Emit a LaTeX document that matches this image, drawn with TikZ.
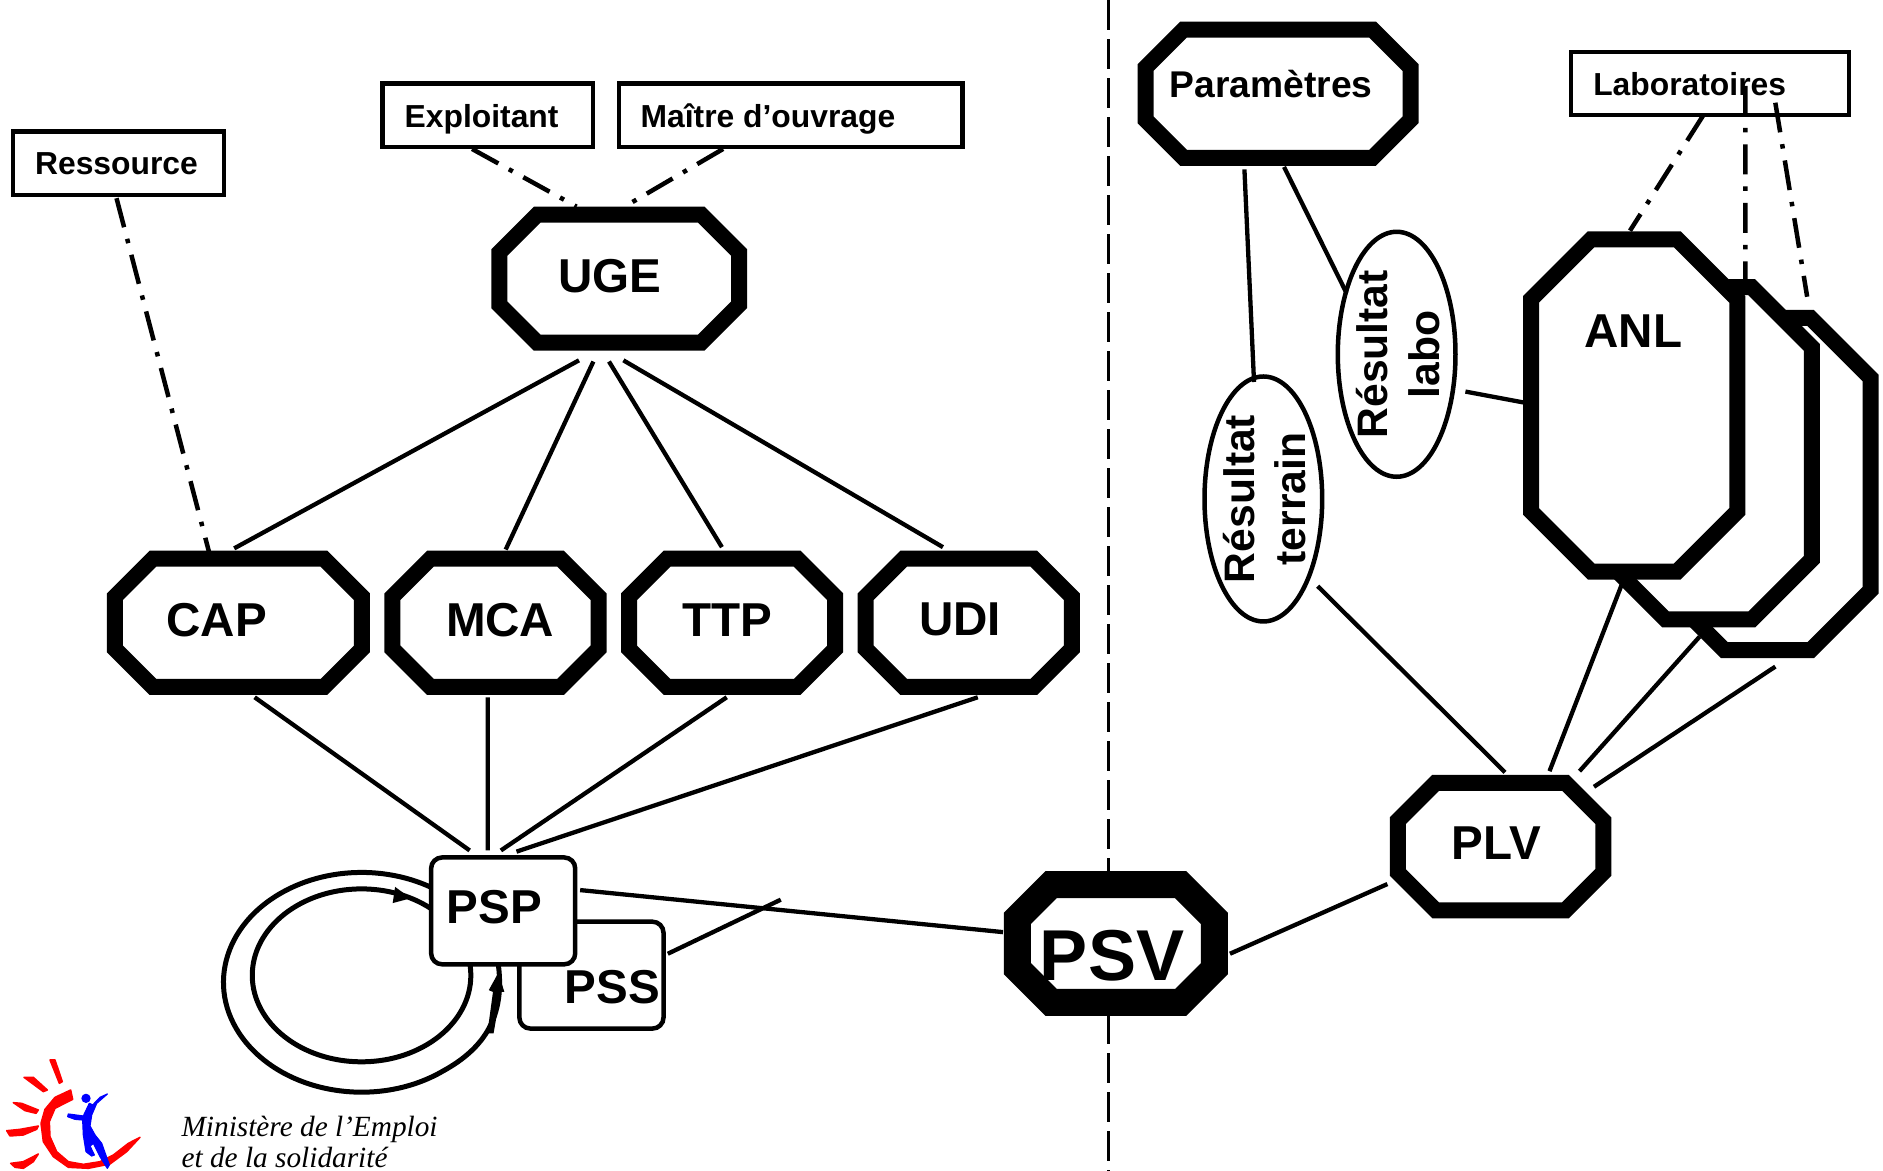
\documentclass[tikz,border=0pt]{standalone}
\usepackage{fontspec}
\usetikzlibrary{shapes.geometric}
\setmainfont{Liberation Sans}
\newfontfamily\minfont{Liberation Serif}
\pgfdeclarelayer{loops}
\pgfsetlayers{loops,main}
\tikzset{
  octanchor/.style={rectangle,draw=none,inner sep=0pt,outer sep=0pt},
  octline/.style={draw=black,fill=white,miter limit=10},
  actor/.style={rectangle,draw=black,fill=white,line width=4.2pt,inner sep=0pt,outer sep=0pt},
  procbox/.style={rectangle,rounded corners=11pt,draw=black,fill=white,line width=4.5pt,inner sep=0pt,outer sep=0pt,minimum width=120pt,minimum height=89pt},
  resbox/.style={ellipse,draw=black,fill=white,line width=4.5pt,inner sep=0pt,outer sep=0pt,minimum width=98pt,minimum height=204pt},
  small/.style={font=\bfseries\fontsize{26.5}{30}\selectfont,inner sep=0pt},
  big/.style={font=\bfseries\fontsize{39.6}{44}\selectfont,inner sep=0pt},
  rot/.style={font=\bfseries\fontsize{35.5}{43}\selectfont,inner sep=0pt,rotate=90,align=center},
  link/.style={line width=4.3pt},
  dd/.style={line width=4.5pt,dash pattern=on 30pt off 12pt on 4.5pt off 12pt},
  sep/.style={line width=2.8pt,dash pattern=on 30pt off 9pt},
  loopline/.style={line width=5pt},
  credit/.style={font=\minfont\itshape\fontsize{24.4}{28}\selectfont,inner sep=0pt,anchor=base west},
  redmark/.style={fill=red,draw=red,line width=1.5pt,line join=round},
  bluemark/.style={fill=blue,draw=blue,line width=1.2pt,line join=round}
}
% name, cx, cy, width, height, chamfer (centre line of the stroke), stroke width
\newcommand{\octa}[7]{%
  \node[octanchor,minimum width=#4pt,minimum height=#5pt] (#1) at (#2,#3) {};
  \draw[octline,line width=#7pt]
    ([shift={({-#4/2+#6},{-#5/2})}]#1.center) --
    ([shift={({#4/2-#6},{-#5/2})}]#1.center) --
    ([shift={({#4/2},{-#5/2+#6})}]#1.center) --
    ([shift={({#4/2},{#5/2-#6})}]#1.center) --
    ([shift={({#4/2-#6},{#5/2})}]#1.center) --
    ([shift={({-#4/2+#6},{#5/2})}]#1.center) --
    ([shift={({-#4/2},{#5/2-#6})}]#1.center) --
    ([shift={({-#4/2},{-#5/2+#6})}]#1.center) -- cycle;
}
\begin{document}
\begin{tikzpicture}[x=1pt,y=-1pt,scale=1.2009,every node/.append style={transform shape}]
\useasboundingbox (0,0) rectangle (1568,975);
% divider
\coordinate (divtop) at (923,0);
\coordinate (divbot) at (923,975);
\draw[sep] (divtop) -- (divbot);
% actors
\node[actor,minimum width=176pt,minimum height=53pt] (res) at (98.5,136) {};
\node[actor,minimum width=175pt,minimum height=53pt] (exp) at (406,96) {};
\node[actor,minimum width=286pt,minimum height=53pt] (mai) at (658.5,96) {};
\node[actor,minimum width=231pt,minimum height=52pt] (lab) at (1424,69.5) {};
% octagons
\octa{uge}{515.5}{232}{199.7}{106.7}{31.6}{16}
\octa{cap}{198.5}{518.5}{205.7}{106.7}{31.6}{16}
\octa{mca}{412.5}{518.5}{171.7}{106.7}{31.6}{16}
\octa{ttp}{609.5}{518.5}{171.7}{106.7}{31.6}{16}
\octa{udi}{806.5}{518.5}{171.7}{106.7}{31.6}{16}
\octa{par}{1064}{78}{220.7}{106.7}{31.6}{16}
\octa{plv}{1249.25}{704.75}{171.2}{106.2}{31.6}{16}
\octa{psv}{929}{785.5}{164}{98}{28}{27}
\octa{anb}{1471.5}{403}{171.7}{276.7}{50}{16}
\octa{anm}{1422.5}{377.4}{171.7}{276.7}{50}{16}
\octa{anl}{1360.5}{337.5}{171.7}{276.7}{50}{16}
% ellipses
\node[resbox] (labo) at (1163,295) {};
\node[resbox] (ter) at (1052,415.5) {};
% PSS, PSP and the loops behind them
\node[procbox] (pss) at (492.5,812) {};
\node[procbox] (psp) at (419,758.5) {};
\coordinate (loopb) at (301,812);
\begin{pgfonlayer}{loops}
\draw[loopline] (loopb) ellipse [x radius=91,y radius=72];
\draw[loopline] ([shift={(-4,45.5)}]psp.center) .. controls (420,845) and (405,872) .. (369,891.8) arc [start angle=53.8,end angle=310,x radius=115,y radius=91.5];
\fill (342,748) -- (329,738.5) -- (327,752) -- cycle;
\fill (415,810) -- (420,826) -- (417,826) -- (411,860.5) -- (405.8,860.5) -- (410.5,826) -- (407,824.5) -- cycle;
\end{pgfonlayer}
% labels
\node[small] (tres) at (97,136) {Ressource};
\node[small] (texp) at (401,99) {Exploitant};
\node[small] (tmai) at (639.5,99) {Maître d’ouvrage};
\node[small] (tlab) at (1407,70) {Laboratoires};
\node[big] (tuge) at (508,230) {UGE};
\node[big] (tcap) at (180.5,516) {CAP};
\node[big] (tmca) at (416.5,516) {MCA};
\node[big] (tttp) at (605.5,516) {TTP};
\node[big] (tudi) at (799.5,516) {UDI};
\node[big] (tpsp) at (411.5,755) {PSP};
\node[big] (tpss) at (510,822) {PSS};
\node[big] (tplv) at (1246,702) {PLV};
\node[big] (tanl) at (1360,276) {ANL};
\node[font=\bfseries\fontsize{31}{34}\selectfont,inner sep=0pt] (tpar) at (1058.5,70) {Paramètres};
\node[font=\bfseries\fontsize{60}{66}\selectfont,inner sep=0pt] (tpsv) at (926,796) {PSV};
\node[rot] (tlabo) at (1164,295) {Résultat\\labo};
\node[rot] (tter) at (1053,415.5) {Résultat\\terrain};
% connectors
\draw[dd] ([shift={(-1.5,29)}]res.center) -- ([shift={(-24.5,-59)}]cap.center);
\draw[dd] ([shift={(-13,28)}]exp.center) -- ([shift={(-35.5,-60)}]uge.center);
\draw[dd] ([shift={(-56.5,28)}]mai.center) -- ([shift={(4.5,-60)}]uge.center);
\draw[link] ([shift={(-33.5,68)}]uge.center) -- ([shift={(-3.5,-62)}]cap.center);
\draw[link] ([shift={(-21.5,69)}]uge.center) -- ([shift={(8.5,-61)}]mca.center);
\draw[link] ([shift={(-8.5,69)}]uge.center) -- ([shift={(-8.5,-63)}]ttp.center);
\draw[link] ([shift={(3.5,68)}]uge.center) -- ([shift={(-21.5,-63)}]udi.center);
\draw[link] ([shift={(13.5,62)}]cap.center) -- ([shift={(-28,-50.5)}]psp.center);
\draw[link] ([shift={(-6.5,62)}]mca.center) -- ([shift={(-13,-50.5)}]psp.center);
\draw[link] ([shift={(-4.5,62)}]ttp.center) -- ([shift={(-2,-50.5)}]psp.center);
\draw[link] ([shift={(7.5,62)}]udi.center) -- ([shift={(11,-49.5)}]psp.center);
\draw[link] ([shift={(64,-17.5)}]psp.center) -- ([shift={(-94,-9.5)}]psv.center);
\coordinate (stub) at (650,749);
\draw[link] ([shift={(63.5,-18)}]pss.center) -- (stub);
\draw[link] ([shift={(95,8.5)}]psv.center) -- ([shift={(-94.25,31.25)}]plv.center);
\draw[link] ([shift={(45,72.5)}]ter.center) -- ([shift={(3.75,-61.75)}]plv.center);
\draw[link] ([shift={(-10.5,149.5)}]anl.center) -- ([shift={(40.75,-62.75)}]plv.center);
\draw[link] ([shift={(-7.5,152.6)}]anm.center) -- ([shift={(65.75,-62.75)}]plv.center);
\draw[link] ([shift={(6.5,152)}]anb.center) -- ([shift={(77.75,-49.75)}]plv.center);
\draw[link] ([shift={(-28,63)}]par.center) -- ([shift={(-8,-97.5)}]ter.center);
\draw[link] ([shift={(5,61)}]par.center) -- ([shift={(-42,-51)}]labo.center);
\draw[link] ([shift={(57,31)}]labo.center) -- ([shift={(-92.5,-2.5)}]anl.center);
\draw[dd] ([shift={(-6,26.5)}]lab.center) -- ([shift={(-3.5,-145.5)}]anl.center);
\draw[dd] ([shift={(29,2)}]lab.center) -- ([shift={(30.5,-145)}]anm.center);
\draw[dd] ([shift={(54,16)}]lab.center) -- ([shift={(33,-156)}]anb.center);
% credit
\node[credit] (cr1) at (151,946) {Ministère de l’Emploi};
\node[credit] (cr2) at (151,972.5) {et de la solidarité};
% logo
\begin{scope}[shift={(0,866)},x=.2776pt,y=-.2776pt]
\filldraw[redmark] (212,150) -- (165,172) -- (135,208) -- (123,250) -- (130,305) -- (160,350) -- (205,382) -- (265,385) -- (330,372) -- (380,335) -- (420,292) -- (385,310) -- (340,345) -- (300,365) -- (250,373) -- (205,365) -- (170,335) -- (150,290) -- (148,245) -- (165,205) -- (218,178) -- cycle;
\filldraw[redmark] (150,60) -- (165,60) -- (187,125) -- (178,130) -- cycle;
\filldraw[redmark] (72,112) -- (100,112) -- (142,150) -- (130,155) -- cycle;
\filldraw[redmark] (40,188) -- (65,190) -- (115,210) -- (108,220) -- (75,212) -- cycle;
\filldraw[redmark] (20,272) -- (60,268) -- (115,258) -- (110,268) -- (70,285) -- (30,288) -- cycle;
\filldraw[redmark] (32,370) -- (70,365) -- (115,342) -- (100,365) -- (70,385) -- (45,382) -- cycle;
\filldraw[bluemark] (258,175) circle [radius=12];
\filldraw[bluemark] (322,162) -- (300,172) -- (278,195) -- (268,190) -- (250,228) -- (205,222) -- (203,230) -- (225,238) -- (248,240) -- (250,285) -- (258,335) -- (275,348) -- (283,345) -- (270,318) -- (280,310) -- (300,350) -- (322,385) -- (328,375) -- (305,310) -- (285,285) -- (270,258) -- (275,225) -- (290,190) -- cycle;
\end{scope}
\end{tikzpicture}
\end{document}
